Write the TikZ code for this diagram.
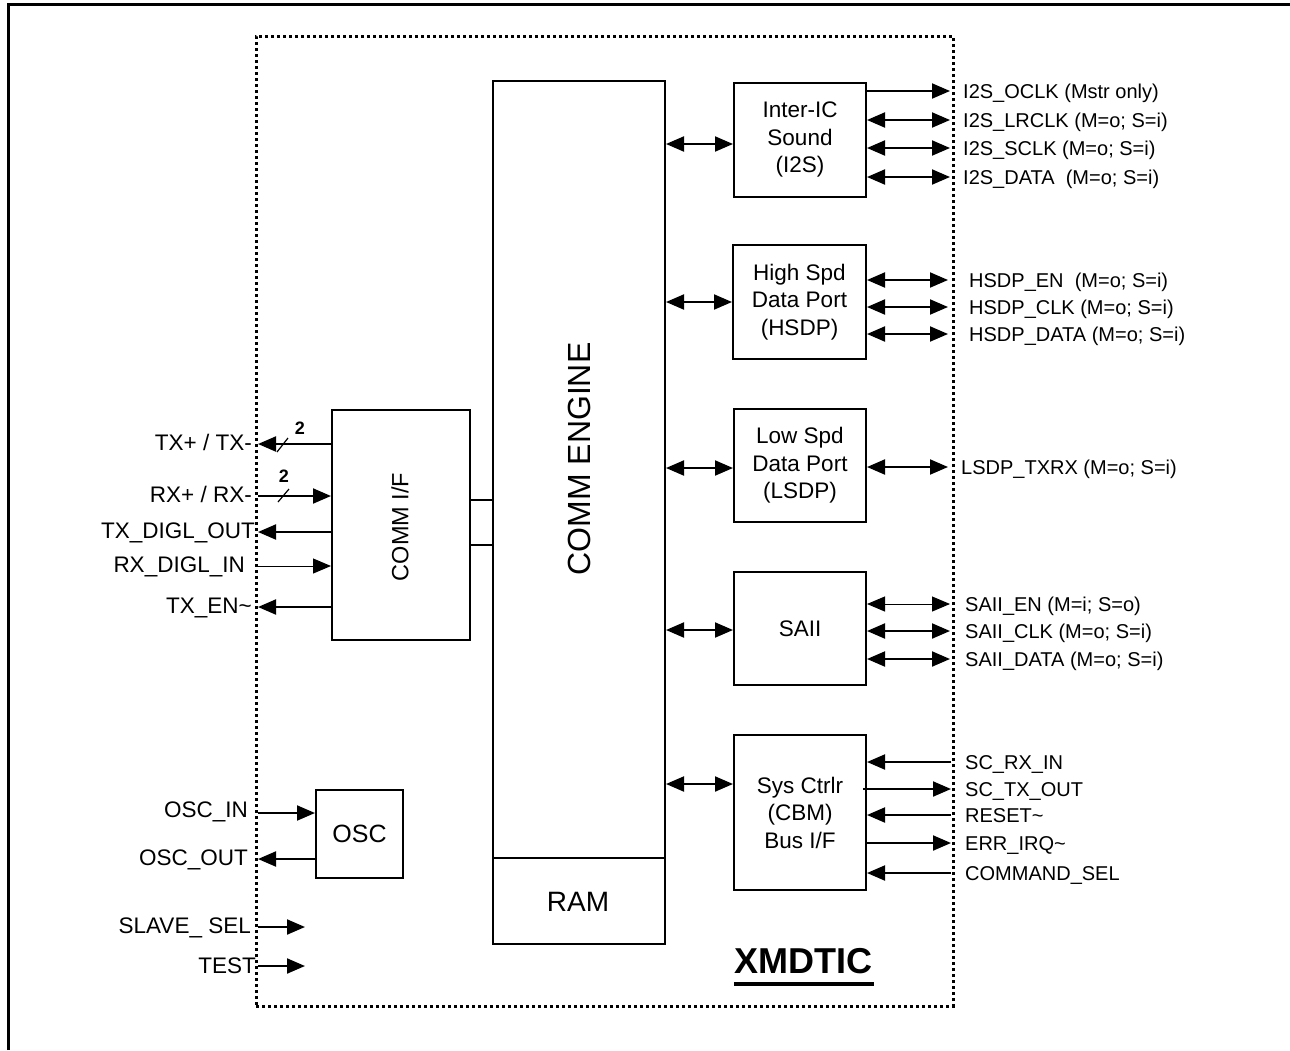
\documentclass[tikz,border=0pt]{standalone}
\usepackage{fontspec}
\setmainfont{Liberation Sans}
\usetikzlibrary{arrows.meta}
\begin{document}
\begin{tikzpicture}[x=1pt,y=-1pt,
  >={Triangle[length=18pt,width=15pt]},
  box/.style={draw, line width=2pt, inner sep=0pt, align=center,
    font=\fontsize{22.5}{27.5}\selectfont},
  sig/.style={line width=2pt},
  thin sig/.style={line width=1pt},
  llab/.style={anchor=east, inner sep=0pt, text height=16pt, text depth=0pt,
    font=\fontsize{22.5}{27}\selectfont},
  rlab/.style={anchor=west, inner sep=0pt, text height=14.3pt, text depth=0pt,
    font=\fontsize{20}{24}\selectfont},
  buslab/.style={inner sep=0pt, font=\bfseries\fontsize{18}{20}\selectfont}
]
\useasboundingbox (0,0) rectangle (1290,1050);
% outer frame (cut by the page)
\draw[line width=3pt] (8,1050) -- (8,4) -- (1290,4);
% chip boundary
\node[draw, line width=3pt, dash pattern=on 3pt off 3pt, inner sep=0pt,
  minimum width=697pt, minimum height=970pt] (chip) at (604.5,521) {};

% blocks
\node[box, minimum width=172pt, minimum height=863pt] (eng) at (579,512.5) {};
\draw[sig] (493,858) -- (665,858);
\node[rotate=90, inner sep=0pt, font=\fontsize{32}{36}\selectfont] (engtxt) at (579,459) {COMM ENGINE};
\node[inner sep=0pt, font=\fontsize{28}{32}\selectfont] (ram) at (578,902) {RAM};

\node[box, minimum width=138pt, minimum height=230pt] (cif) at (401,525) {};
\node[rotate=90, inner sep=0pt, font=\fontsize{23.5}{27}\selectfont] (ciftxt) at (400,527) {COMM I/F};

\node[box, minimum width=87pt, minimum height=88pt, font=\fontsize{25}{30}\selectfont] (osc) at (359.5,833.5) {OSC};

\node[box, minimum width=132pt, minimum height=114pt] (i2s) at (800,139.5) {Inter-IC\\Sound\\(I2S)};
\node[box, minimum width=133pt, minimum height=114pt] (hsdp) at (799.5,302) {High Spd\\Data Port\\(HSDP)};
\node[box, minimum width=132pt, minimum height=113pt] (lsdp) at (800,465.5) {Low Spd\\Data Port\\(LSDP)};
\node[box, minimum width=132pt, minimum height=113pt] (saii) at (800,628.5) {SAII};
\node[box, minimum width=132pt, minimum height=155pt] (sys) at (800,812.5) {Sys Ctrlr\\(CBM)\\Bus I/F};

% title
\node[inner sep=0pt, text height=25.5pt, text depth=0pt, font=\bfseries\fontsize{36}{40}\selectfont] (title) at (803,961) {XMDTIC};
\draw[line width=3.5pt] (title.south west) ++(0,10) -- ++(140,0);

% engine <-> COMM I/F
\coordinate (cA) at (480,500);
\coordinate (cB) at (480,545);
\draw[sig] (cif.east |- cA) -- (eng.west |- cA);
\draw[sig] (cif.east |- cB) -- (eng.west |- cB);

% engine <-> peripheral blocks
\coordinate (e1) at (700,144);
\coordinate (e2) at (700,302);
\coordinate (e3) at (700,468);
\coordinate (e4) at (700,630);
\coordinate (e5) at (700,784);
\draw[sig,<->] (eng.east |- e1) -- (i2s.west |- e1);
\draw[sig,<->] (eng.east |- e2) -- (hsdp.west |- e2);
\draw[sig,<->] (eng.east |- e3) -- (lsdp.west |- e3);
\draw[sig,<->] (eng.east |- e4) -- (saii.west |- e4);
\draw[sig,<->] (eng.east |- e5) -- (sys.west |- e5);

% ---------- left pins ----------
\coordinate (pTX) at (258,444);
\coordinate (pRX) at (258,496);
\coordinate (pTXD) at (258,532);
\coordinate (pRXD) at (258,566);
\coordinate (pTXEN) at (258,607);
\draw[sig,->] (cif.west |- pTX) -- (pTX);
\draw[sig,->] (pRX) -- (cif.west |- pRX);
\draw[sig,->] (cif.west |- pTXD) -- (pTXD);
\draw[thin sig,->] (pRXD) -- (cif.west |- pRXD);
\draw[sig,->] (cif.west |- pTXEN) -- (pTXEN);
\draw[line width=1.2pt] (277,452) -- (288,438);
\node[buslab] (b1) at (300,428) {2};
\draw[line width=1.2pt] (278,502) -- (289,489);
\node[buslab] (b2) at (284,476) {2};
\node[llab] (lTX) at (252,442) {TX+ / TX-};
\node[llab] (lRX) at (252,494) {RX+ / RX-};
\node[llab] (lTXD) at (255,530) {TX\_DIGL\_OUT};
\node[llab] (lRXD) at (245,564) {RX\_DIGL\_IN};
\node[llab] (lTXEN) at (252,605) {TX\_EN\textasciitilde};

\coordinate (pOI) at (258,813);
\coordinate (pOO) at (258,859);
\coordinate (pSS) at (258,927);
\coordinate (pSSe) at (305,927);
\coordinate (pTE) at (258,966);
\coordinate (pTEe) at (305,966);
\draw[sig,->] (pOI) -- (osc.west |- pOI);
\draw[sig,->] (osc.west |- pOO) -- (pOO);
\draw[sig,->] (pSS) -- (pSSe);
\draw[sig,->] (pTE) -- (pTEe);
\node[llab] (lOI) at (248,809) {OSC\_IN};
\node[llab] (lOO) at (248,857) {OSC\_OUT};
\node[llab] (lSS) at (251,925) {SLAVE\_ SEL};
\node[llab] (lTE) at (256,965) {TEST};

% ---------- right pins: I2S ----------
\coordinate (pI1) at (950,91);
\coordinate (pI2) at (950,120);
\coordinate (pI3) at (950,148);
\coordinate (pI4) at (950,177);
\draw[sig,->] (i2s.east |- pI1) -- (pI1);
\draw[sig,<->] (i2s.east |- pI2) -- (pI2);
\draw[sig,<->] (i2s.east |- pI3) -- (pI3);
\draw[sig,<->] (i2s.east |- pI4) -- (pI4);
\node[rlab] (lI1) at (963,91) {I2S\_OCLK (Mstr only)};
\node[rlab] (lI2) at (963,120) {I2S\_LRCLK (M=o; S=i)};
\node[rlab] (lI3) at (963,148) {I2S\_SCLK (M=o; S=i)};
\node[rlab] (lI4) at (963,177) {I2S\_DATA\ \ (M=o; S=i)};

% HSDP
\coordinate (pH1) at (948,280);
\coordinate (pH2) at (948,307);
\coordinate (pH3) at (948,334);
\draw[sig,<->] (hsdp.east |- pH1) -- (pH1);
\draw[sig,<->] (hsdp.east |- pH2) -- (pH2);
\draw[sig,<->] (hsdp.east |- pH3) -- (pH3);
\node[rlab] (lH1) at (969,280) {HSDP\_EN\ \ (M=o; S=i)};
\node[rlab] (lH2) at (969,307) {HSDP\_CLK (M=o; S=i)};
\node[rlab] (lH3) at (969,334) {HSDP\_DATA (M=o; S=i)};

% LSDP
\coordinate (pL1) at (948,467);
\draw[sig,<->] (lsdp.east |- pL1) -- (pL1);
\node[rlab] (lL1) at (961,467) {LSDP\_TXRX (M=o; S=i)};

% SAII
\coordinate (pS1) at (950,604);
\coordinate (pS2) at (950,631);
\coordinate (pS3) at (950,659);
\draw[thin sig,<->] (saii.east |- pS1) -- (pS1);
\draw[sig,<->] (saii.east |- pS2) -- (pS2);
\draw[sig,<->] (saii.east |- pS3) -- (pS3);
\node[rlab] (lS1) at (965,604) {SAII\_EN (M=i; S=o)};
\node[rlab] (lS2) at (965,631) {SAII\_CLK (M=o; S=i)};
\node[rlab] (lS3) at (965,659) {SAII\_DATA (M=o; S=i)};

% Sys Ctrlr
\coordinate (pC1) at (951,762);
\coordinate (pC2) at (951,789);
\coordinate (pC3) at (951,815);
\coordinate (pC4) at (951,843);
\coordinate (pC5) at (951,873);
\draw[sig,->] (pC1) -- (sys.east |- pC1);
\draw[sig,->] ([xshift=-4pt]sys.east |- pC2) -- (pC2);
\draw[sig,->] (pC3) -- (sys.east |- pC3);
\draw[sig,->] (sys.east |- pC4) -- (pC4);
\draw[sig,->] (pC5) -- (sys.east |- pC5);
\node[rlab] (lC1) at (965,762) {SC\_RX\_IN};
\node[rlab] (lC2) at (965,789) {SC\_TX\_OUT};
\node[rlab] (lC3) at (965,815) {RESET\textasciitilde};
\node[rlab] (lC4) at (965,843) {ERR\_IRQ\textasciitilde};
\node[rlab] (lC5) at (965,873) {COMMAND\_SEL};
\end{tikzpicture}
\end{document}
